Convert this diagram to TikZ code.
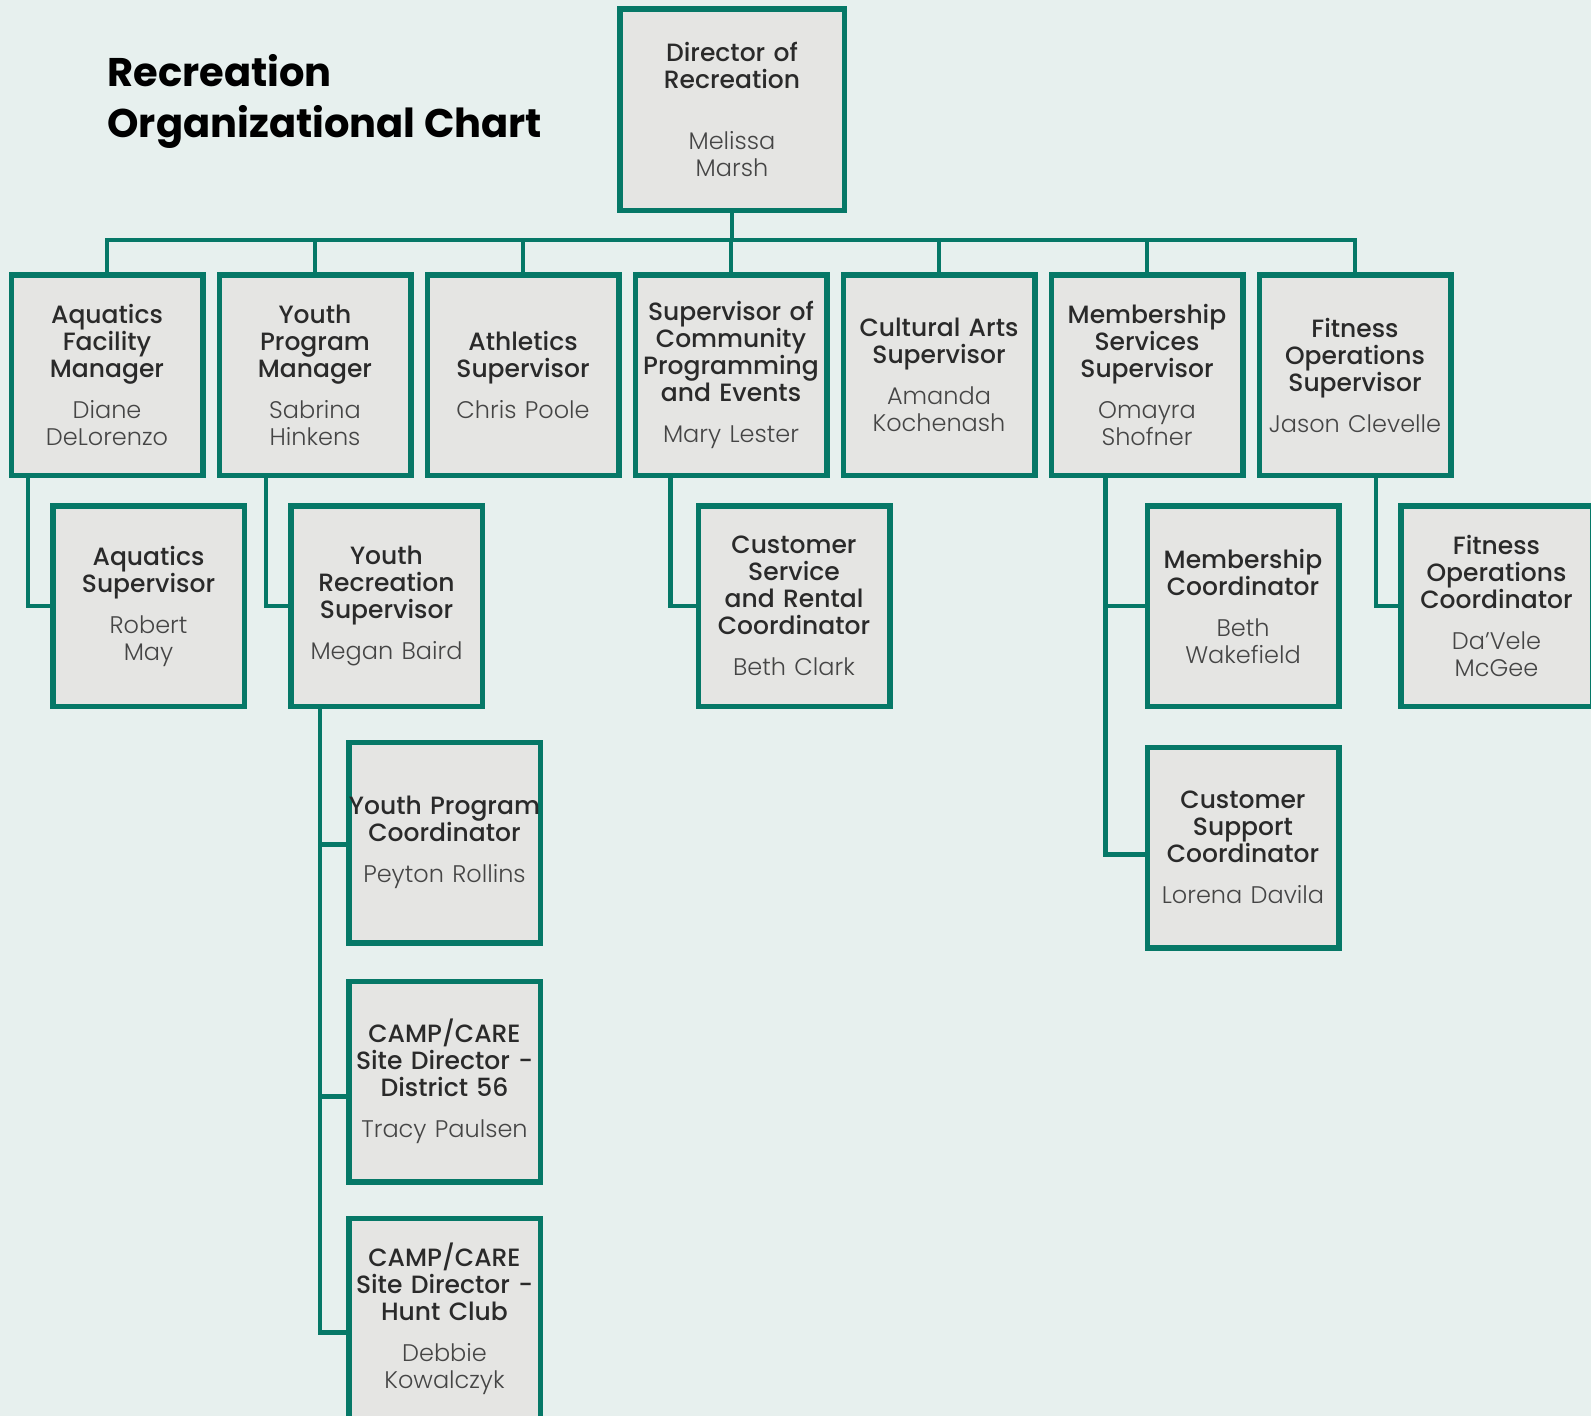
\documentclass[tikz,border=0pt]{standalone}
\usepackage{fontspec}
\setmainfont{Poppins}
\newfontfamily\rolefont{Poppins Medium}
\newfontfamily\namefont{Poppins Light}
\usetikzlibrary{positioning}

\definecolor{pagebg}{HTML}{E7F0EE}
\definecolor{orgteal}{HTML}{067867}
\definecolor{boxfill}{HTML}{E5E5E3}
\definecolor{roleink}{HTML}{2A2A2A}
\definecolor{nameink}{HTML}{454545}

\hyphenpenalty=10000
\newcommand{\staffname}[1]{{\namefont\fontsize{24}{27}\selectfont\color{nameink}#1}}

\begin{document}
\begin{tikzpicture}[
  x=1pt, y=-1pt,
  post/.style={draw=orgteal, line width=5.5pt, fill=boxfill, minimum width=191.5pt, minimum height=200.5pt,
    inner sep=0pt, text width=188pt, align=center, text=roleink, font=\rolefont\fontsize{25}{27}\selectfont},
  link/.style={draw=orgteal, line width=4.5pt, line cap=rect},
  head/.style={anchor=base west, font=\bfseries\fontsize{40}{48}\selectfont, text=black}
]
\useasboundingbox (0,0) rectangle (1591,1416);
\fill[pagebg] (0,0) rectangle (1591,1416);
\clip (0,0) rectangle (1591,1416);

\node[head] (head1) at (104,86) {Recreation};
\node[head] (head2) at (104,137) {Organizational Chart};

\node[post, minimum width=224.5pt, minimum height=201.5pt] (dir) at (732,109.5)
  {Director of\\Recreation\\[34pt]\staffname{Melissa\\Marsh}};

\node[post] (aqm) at (107,375) {Aquatics\\Facility\\Manager\\[14pt]\staffname{Diane\\DeLorenzo}};
\node[post, right=11pt of aqm] (ypm) {Youth\\Program\\Manager\\[14pt]\staffname{Sabrina\\Hinkens}};
\node[post, right=11pt of ypm] (ath) {Athletics\\Supervisor\\[14pt]\staffname{Chris Poole}};
\node[post, right=11pt of ath] (scp) {Supervisor of\\Community\\Programming\\and Events\\[14pt]\staffname{Mary Lester}};
\node[post, right=11pt of scp] (cas) {Cultural Arts\\Supervisor\\[14pt]\staffname{Amanda\\Kochenash}};
\node[post, right=11pt of cas] (mss) {Membership\\Services\\Supervisor\\[14pt]\staffname{Omayra\\Shofner}};
\node[post, right=11pt of mss] (fos) {Fitness\\Operations\\Supervisor\\[14pt]\staffname{Jason Clevelle}};

\node[post] (aqs) at (148.5,606) {Aquatics\\Supervisor\\[14pt]\staffname{Robert\\May}};
\node[post] (yrs) at (386.5,606) {Youth\\Recreation\\Supervisor\\[14pt]\staffname{Megan Baird}};
\node[post] (csr) at (794,606) {Customer\\Service\\and Rental\\Coordinator\\[14pt]\staffname{Beth Clark}};
\node[post] (mco) at (1243,606) {Membership\\Coordinator\\[14pt]\staffname{Beth\\Wakefield}};
\node[post] (foc) at (1496.5,606) {Fitness\\Operations\\Coordinator\\[14pt]\staffname{Da’Vele\\McGee}};
\node[post] (csc) at (1243,847.5) {Customer\\Support\\Coordinator\\[14pt]\staffname{Lorena Davila}};

\node[post] (ypc) at (444.5,842.5) {\makebox[\linewidth]{Youth Program}\\Coordinator\\[14pt]\staffname{Peyton Rollins}};
\node[post] (cd56) at (444.5,1081.5) {CAMP/CARE\\Site Director -\\District 56\\[14pt]\staffname{Tracy Paulsen}};
\node[post] (chc) at (444.5,1318.5) {CAMP/CARE\\Site Director -\\Hunt Club\\[14pt]\staffname{Debbie\\Kowalczyk}};

\coordinate (bus) at (0,240);
\draw[link] (dir.south) -- (dir.south |- bus);
\draw[link] (aqm.north |- bus) -- (fos.north |- bus);
\foreach \n in {aqm,ypm,ath,scp,cas,mss,fos}
  \draw[link] (\n.north |- bus) -- (\n.north);

\draw[link] ([xshift=-22pt]aqs.west |- aqm.south) |- (aqs.west);
\draw[link] ([xshift=-22pt]yrs.west |- ypm.south) |- (yrs.west);
\draw[link] ([xshift=-25pt]csr.west |- scp.south) |- (csr.west);
\draw[link] ([xshift=-22pt]foc.west |- fos.south) |- (foc.west);

\draw[link] ([xshift=-39pt]mco.west |- mss.south) |- ([yshift=-7pt]csc.west);
\draw[link] ([xshift=-39pt]mco.west) -- (mco.west);

\draw[link] ([xshift=-26pt]ypc.west |- yrs.south) |- ([yshift=-14pt]chc.west);
\foreach \kid/\dy in {ypc/-2, cd56/-15}
  \draw[link] ([xshift=-26pt, yshift=\dy pt]\kid.west) -- ([yshift=\dy pt]\kid.west);
\end{tikzpicture}
\end{document}
